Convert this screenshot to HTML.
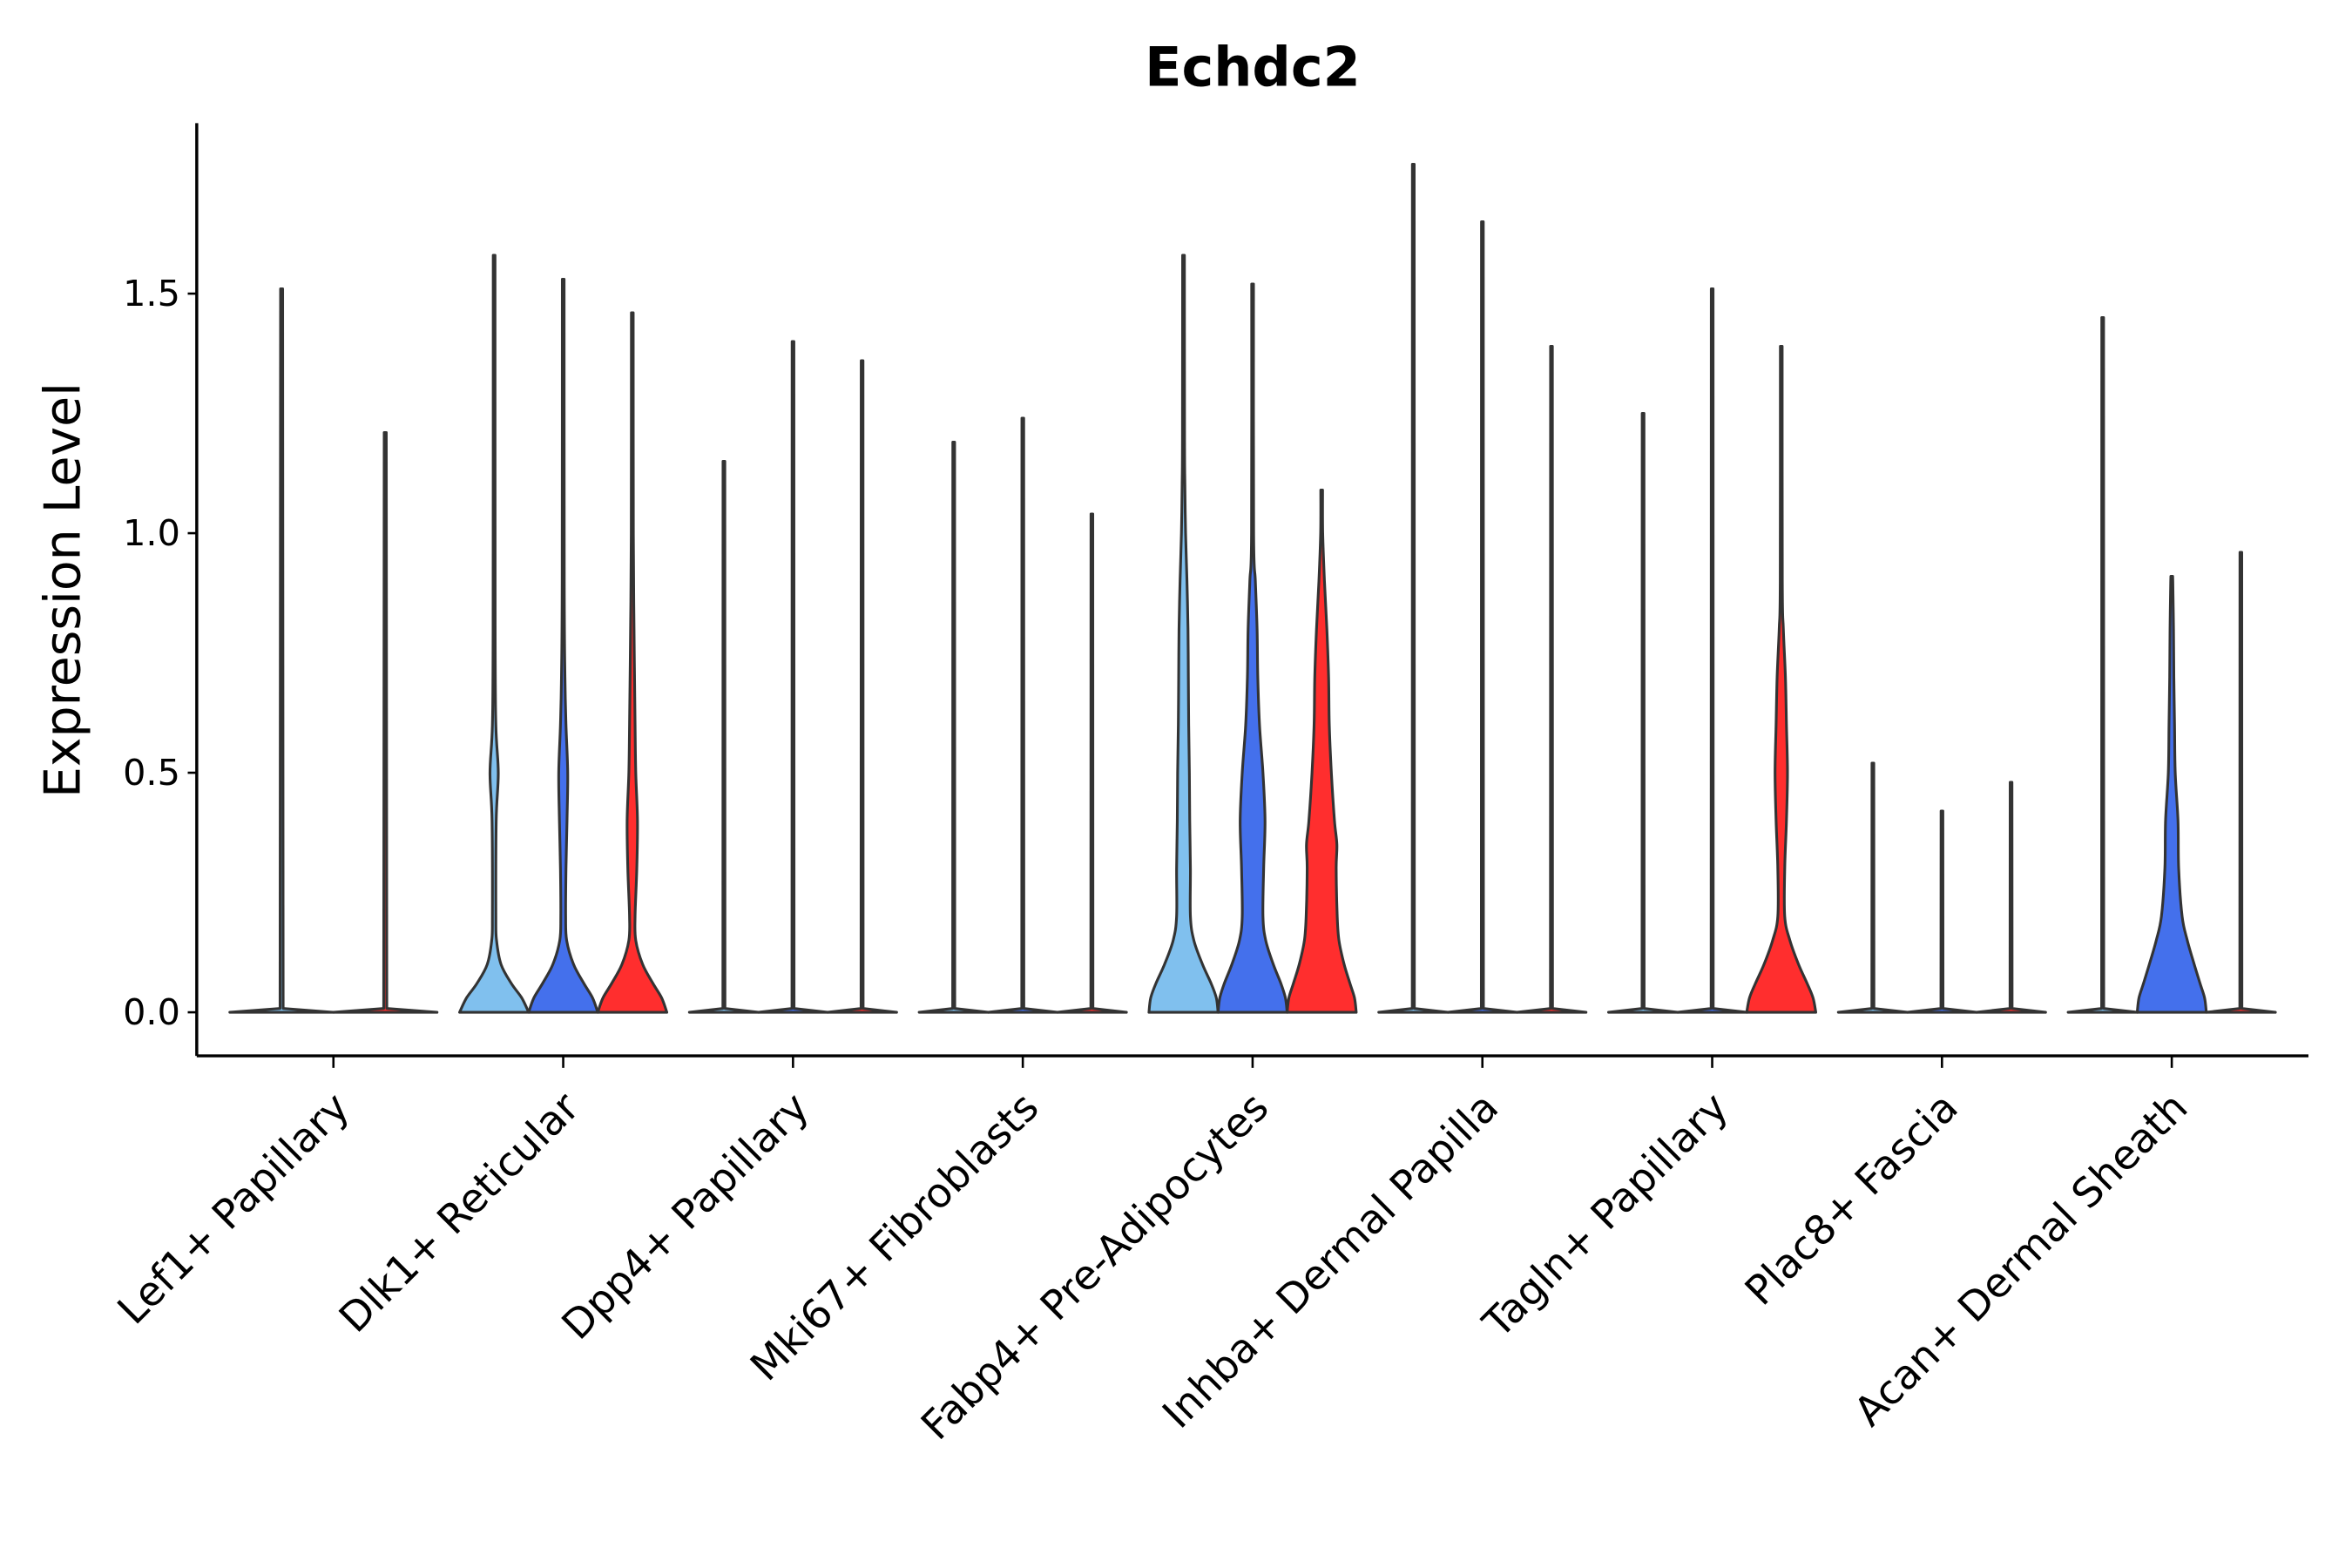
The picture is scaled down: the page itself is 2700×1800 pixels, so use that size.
<!DOCTYPE html>
<html><head><meta charset="utf-8"><style>
html,body{margin:0;padding:0;background:#fff;}
svg{display:block;font-family:"DejaVu Sans","Liberation Sans",sans-serif;}
</style></head><body>
<svg id="chart" width="2700" height="1800" viewBox="0 0 1566 1044" xmlns="http://www.w3.org/2000/svg">
<rect x="0" y="0" width="1566" height="1044" fill="#fff"/>
<text x="834" y="57" text-anchor="middle" font-size="36" font-weight="bold">Echdc2</text>
<text transform="translate(53,393) rotate(-90)" text-anchor="middle" font-size="33">Expression Level</text>
<g id="plot"></g>
</svg>
<script>
const categories = ["Lef1+ Papillary","Dlk1+ Reticular","Dpp4+ Papillary","Mki67+ Fibroblasts","Fabp4+ Pre-Adipocytes","Inhba+ Dermal Papilla","Tagln+ Papillary","Plac8+ Fascia","Acan+ Dermal Sheath"];
const yTicks = [0, 0.5, 1.0, 1.5];
const yTickLabels = ["0.0","0.5","1.0","1.5"];
// max expression per violin (per category, per condition)
const maxValues = [
  [1.51, 1.21],
  [1.58, 1.53, 1.46],
  [1.15, 1.40, 1.36],
  [1.19, 1.24, 1.04],
  [1.58, 1.52, 1.09],
  [1.77, 1.65, 1.39],
  [1.25, 1.51, 1.39],
  [0.52, 0.42, 0.48],
  [1.45, 0.91, 0.96]
];
// density profiles: [level, relative half-width]
const flat = [[0,1],[0.008,0.03]];
const dlk1A = [[0,1],[0.03,0.8],[0.06,0.5],[0.1,0.2],[0.15,0.07],[0.2,0.05],[0.4,0.06],[0.5,0.12],[0.6,0.05],[0.8,0.03]];
const dlk1B = [[0,1],[0.03,0.85],[0.06,0.6],[0.1,0.3],[0.15,0.1],[0.2,0.07],[0.3,0.08],[0.4,0.11],[0.5,0.13],[0.6,0.08],[0.7,0.05],[0.9,0.03]];
const dlk1C = [[0,1],[0.03,0.85],[0.06,0.6],[0.1,0.3],[0.15,0.1],[0.2,0.08],[0.3,0.13],[0.4,0.15],[0.5,0.1],[0.6,0.08],[0.8,0.05],[1.0,0.03]];
const fabp4A = [[0,1],[0.03,0.95],[0.06,0.8],[0.1,0.55],[0.15,0.3],[0.2,0.2],[0.3,0.2],[0.4,0.18],[0.5,0.17],[0.6,0.15],[0.7,0.14],[0.8,0.13],[0.9,0.1],[1.0,0.06],[1.1,0.04],[1.2,0.03]];
const fabp4B = [[0,1],[0.03,0.95],[0.06,0.82],[0.1,0.6],[0.15,0.38],[0.2,0.3],[0.3,0.32],[0.4,0.36],[0.5,0.3],[0.6,0.2],[0.7,0.15],[0.8,0.13],[0.9,0.08],[1.0,0.03]];
const fabp4C = [[0,1],[0.03,0.95],[0.06,0.82],[0.1,0.65],[0.15,0.5],[0.2,0.45],[0.3,0.42],[0.35,0.44],[0.4,0.37],[0.5,0.28],[0.6,0.22],[0.7,0.2],[0.8,0.15],[0.9,0.08],[1.0,0.03]];
const taglnC = [[0,1],[0.03,0.92],[0.06,0.75],[0.1,0.5],[0.15,0.25],[0.2,0.1],[0.3,0.1],[0.4,0.15],[0.5,0.18],[0.6,0.15],[0.7,0.12],[0.8,0.06],[0.9,0.03]];
const acanB = [[0,1],[0.03,0.95],[0.06,0.82],[0.1,0.65],[0.15,0.45],[0.2,0.3],[0.3,0.2],[0.4,0.18],[0.5,0.1],[0.6,0.08],[0.7,0.06],[0.8,0.05],[0.9,0.03]];
const densities = [
  [flat, flat],
  [dlk1A, dlk1B, dlk1C],
  [flat, flat, flat],
  [flat, flat, flat],
  [fabp4A, fabp4B, fabp4C],
  [flat, flat, flat],
  [flat, flat, taglnC],
  [flat, flat, flat],
  [flat, acanB, flat]
];
const conditionColors3 = ["#80C0EE","#4470EC","#FF2E2E"];
const conditionColors2 = ["#80C0EE","#FF2E2E"];

const NS = "http://www.w3.org/2000/svg";
const plot = document.getElementById('plot');
const x0 = 131, x1 = 1537, yTop = 82, yAxis = 703;
const yScale = v => 674 - v * 319;
const xCenter = i => 222 + i * 153;
const groupHalf = 69;

function mk(tag, attrs) {
  const e = document.createElementNS(NS, tag);
  for (const k in attrs) e.setAttribute(k, attrs[k]);
  return e;
}
function smooth(pts) {
  let d = '';
  for (let i = 0; i < pts.length - 1; i++) {
    const p0 = pts[Math.max(i-1,0)], p1 = pts[i], p2 = pts[i+1], p3 = pts[Math.min(i+2, pts.length-1)];
    const c1 = [p1[0] + (p2[0]-p0[0])/6, p1[1] + (p2[1]-p0[1])/6];
    const c2 = [p2[0] - (p3[0]-p1[0])/6, p2[1] - (p3[1]-p1[1])/6];
    const lo = Math.min(p1[1], p2[1]), hi = Math.max(p1[1], p2[1]);
    c1[1] = Math.min(hi, Math.max(lo, c1[1]));
    c2[1] = Math.min(hi, Math.max(lo, c2[1]));
    d += ` C${c1[0].toFixed(2)},${c1[1].toFixed(2)} ${c2[0].toFixed(2)},${c2[1].toFixed(2)} ${p2[0].toFixed(2)},${p2[1].toFixed(2)}`;
  }
  return d;
}
function poly(pts) {
  return pts.slice(1).map(p => ` L${p[0].toFixed(2)},${p[1].toFixed(2)}`).join('');
}

const yAxisLine = mk('line', {x1:x0, y1:yTop, x2:x0, y2:yAxis, stroke:'#000', 'stroke-width':2});


plot.appendChild(yAxisLine);
const xAxisLine = mk('line', {x1:x0, y1:yAxis, x2:x1, y2:yAxis, stroke:'#000', 'stroke-width':2});


plot.appendChild(xAxisLine);

yTicks.forEach((t, i) => {
  const y = yScale(t);
  const tk = mk('line', {x1:x0-6, y1:y, x2:x0, y2:y, stroke:'#000', 'stroke-width':1.5});
  
  
  plot.appendChild(tk);
  const lb = mk('text', {x:x0-11, y:y+8, 'text-anchor':'end', 'font-size':24});
  
  
  lb.textContent = yTickLabels[i];
  plot.appendChild(lb);
});

categories.forEach((c, i) => {
  const cx = xCenter(i);
  const tk = mk('line', {x1:cx, y1:yAxis, x2:cx, y2:yAxis+8, stroke:'#000', 'stroke-width':1.5});
  
  
  plot.appendChild(tk);
  const lb = mk('text', {transform:`translate(${cx+12},${yAxis+36}) rotate(-45)`, 'text-anchor':'end', 'font-size':27});
  
  
  lb.textContent = c;
  plot.appendChild(lb);

  const n = maxValues[i].length;
  const w = 2 * groupHalf / n;
  const colors = n === 3 ? conditionColors3 : conditionColors2;
  maxValues[i].forEach((mx, j) => {
    const vx = cx - groupHalf + w * (j + 0.5);
    const hw = w / 2;
    const prof = densities[i][j].filter(p => p[0] < mx);
    const pts = prof.map(p => [p[0], p[1]]);
    pts.push([mx, 0.02]);
    const right = pts.map(p => [vx + Math.max(p[1]*hw, 0.6), yScale(p[0])]);
    const left = pts.slice().reverse().map(p => [vx - Math.max(p[1]*hw, 0.6), yScale(p[0])]);
    const isFlat = prof.length <= 2;
    const f = isFlat ? poly : smooth;
    const d = `M${right[0][0].toFixed(2)},${right[0][1].toFixed(2)}` + f(right) +
      ` L${left[0][0].toFixed(2)},${left[0][1].toFixed(2)}` + f(left) + ' Z';
    const path = mk('path', {d, fill:colors[j], stroke:'#333', 'stroke-width':1.8, 'stroke-linejoin':'round'});
    
    
    plot.appendChild(path);
  });
});
</script>
</body></html>
